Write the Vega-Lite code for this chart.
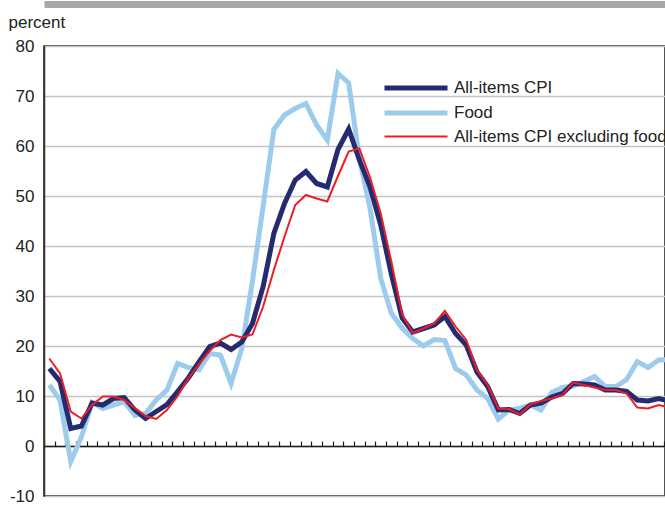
{
  "$schema": "https://vega.github.io/schema/vega-lite/v6.json",
  "width": 621,
  "height": 450,
  "autosize": {"type": "none"},
  "padding": {"left": 44, "top": 46, "right": 0, "bottom": 10},
  "background": "white",
  "config": {
    "font": "Liberation Sans",
    "view": {"stroke": "#1a1a1a", "strokeWidth": 1.5},
    "axis": {"labelFont": "Liberation Sans", "titleFont": "Liberation Sans"}
  },
  "data": {
    "values": [
      {"t": 0.5, "All-items CPI": 15.5, "Food": 12.2, "All-items CPI excluding food": 17.5},
      {"t": 1.5, "All-items CPI": 12.9, "Food": 9.2, "All-items CPI excluding food": 14.5},
      {"t": 2.5, "All-items CPI": 3.5, "Food": -3.1, "All-items CPI excluding food": 6.9},
      {"t": 3.5, "All-items CPI": 4.0, "Food": 1.8, "All-items CPI excluding food": 5.5},
      {"t": 4.5, "All-items CPI": 8.6, "Food": 8.7, "All-items CPI excluding food": 8.2},
      {"t": 5.5, "All-items CPI": 8.2, "Food": 7.5, "All-items CPI excluding food": 9.9},
      {"t": 6.5, "All-items CPI": 9.5, "Food": 8.2, "All-items CPI excluding food": 9.9},
      {"t": 7.5, "All-items CPI": 9.7, "Food": 8.9, "All-items CPI excluding food": 9.2},
      {"t": 8.5, "All-items CPI": 7.2, "Food": 6.1, "All-items CPI excluding food": 7.6},
      {"t": 9.5, "All-items CPI": 5.5, "Food": 6.5, "All-items CPI excluding food": 6.0},
      {"t": 10.5, "All-items CPI": 6.9, "Food": 9.2, "All-items CPI excluding food": 5.4},
      {"t": 11.5, "All-items CPI": 8.3, "Food": 11.2, "All-items CPI excluding food": 7.2},
      {"t": 12.5, "All-items CPI": 10.9, "Food": 16.5, "All-items CPI excluding food": 10.0},
      {"t": 13.5, "All-items CPI": 13.6, "Food": 15.7, "All-items CPI excluding food": 13.5},
      {"t": 14.5, "All-items CPI": 16.8, "Food": 15.2, "All-items CPI excluding food": 16.4},
      {"t": 15.5, "All-items CPI": 19.9, "Food": 18.5, "All-items CPI excluding food": 19.0},
      {"t": 16.5, "All-items CPI": 20.6, "Food": 18.2, "All-items CPI excluding food": 21.2},
      {"t": 17.5, "All-items CPI": 19.3, "Food": 12.5, "All-items CPI excluding food": 22.3},
      {"t": 18.5, "All-items CPI": 20.8, "Food": 19.5, "All-items CPI excluding food": 21.7},
      {"t": 19.5, "All-items CPI": 24.5, "Food": 33.0, "All-items CPI excluding food": 22.3},
      {"t": 20.5, "All-items CPI": 31.9, "Food": 48.0, "All-items CPI excluding food": 27.9},
      {"t": 21.5, "All-items CPI": 42.5, "Food": 63.3, "All-items CPI excluding food": 35.2},
      {"t": 22.5, "All-items CPI": 48.5, "Food": 66.2, "All-items CPI excluding food": 41.9},
      {"t": 23.5, "All-items CPI": 53.2, "Food": 67.5, "All-items CPI excluding food": 48.2},
      {"t": 24.5, "All-items CPI": 54.9, "Food": 68.5, "All-items CPI excluding food": 50.2},
      {"t": 25.5, "All-items CPI": 52.5, "Food": 64.2, "All-items CPI excluding food": 49.5},
      {"t": 26.5, "All-items CPI": 51.8, "Food": 61.2, "All-items CPI excluding food": 48.9},
      {"t": 27.5, "All-items CPI": 59.3, "Food": 74.5, "All-items CPI excluding food": 54.0},
      {"t": 28.5, "All-items CPI": 63.4, "Food": 72.6, "All-items CPI excluding food": 58.9},
      {"t": 29.5, "All-items CPI": 57.2, "Food": 57.5, "All-items CPI excluding food": 59.5},
      {"t": 30.5, "All-items CPI": 51.8, "Food": 47.5, "All-items CPI excluding food": 53.7},
      {"t": 31.5, "All-items CPI": 44.2, "Food": 33.5, "All-items CPI excluding food": 46.5},
      {"t": 32.5, "All-items CPI": 34.3, "Food": 26.5, "All-items CPI excluding food": 36.8},
      {"t": 33.5, "All-items CPI": 25.6, "Food": 23.6, "All-items CPI excluding food": 26.3},
      {"t": 34.5, "All-items CPI": 22.8, "Food": 21.5, "All-items CPI excluding food": 22.6},
      {"t": 35.5, "All-items CPI": 23.5, "Food": 20.0, "All-items CPI excluding food": 23.5},
      {"t": 36.5, "All-items CPI": 24.2, "Food": 21.3, "All-items CPI excluding food": 24.5},
      {"t": 37.5, "All-items CPI": 25.9, "Food": 21.1, "All-items CPI excluding food": 27.0},
      {"t": 38.5, "All-items CPI": 22.5, "Food": 15.5, "All-items CPI excluding food": 23.9},
      {"t": 39.5, "All-items CPI": 20.2, "Food": 14.2, "All-items CPI excluding food": 21.2},
      {"t": 40.5, "All-items CPI": 14.8, "Food": 11.2, "All-items CPI excluding food": 15.2},
      {"t": 41.5, "All-items CPI": 11.9, "Food": 9.5, "All-items CPI excluding food": 12.2},
      {"t": 42.5, "All-items CPI": 7.2, "Food": 5.4, "All-items CPI excluding food": 7.5},
      {"t": 43.5, "All-items CPI": 7.3, "Food": 7.2, "All-items CPI excluding food": 7.4},
      {"t": 44.5, "All-items CPI": 6.5, "Food": 7.5, "All-items CPI excluding food": 6.3},
      {"t": 45.5, "All-items CPI": 8.2, "Food": 8.2, "All-items CPI excluding food": 8.3},
      {"t": 46.5, "All-items CPI": 8.6, "Food": 7.2, "All-items CPI excluding food": 9.0},
      {"t": 47.5, "All-items CPI": 9.8, "Food": 10.7, "All-items CPI excluding food": 9.5},
      {"t": 48.5, "All-items CPI": 10.5, "Food": 11.7, "All-items CPI excluding food": 10.2},
      {"t": 49.5, "All-items CPI": 12.5, "Food": 12.0, "All-items CPI excluding food": 12.7},
      {"t": 50.5, "All-items CPI": 12.4, "Food": 12.9, "All-items CPI excluding food": 12.2},
      {"t": 51.5, "All-items CPI": 12.2, "Food": 13.9, "All-items CPI excluding food": 11.7},
      {"t": 52.5, "All-items CPI": 11.2, "Food": 11.9, "All-items CPI excluding food": 11.2},
      {"t": 53.5, "All-items CPI": 11.2, "Food": 11.9, "All-items CPI excluding food": 11.2},
      {"t": 54.5, "All-items CPI": 10.9, "Food": 13.3, "All-items CPI excluding food": 10.5},
      {"t": 55.5, "All-items CPI": 9.2, "Food": 16.9, "All-items CPI excluding food": 7.7},
      {"t": 56.5, "All-items CPI": 9.0, "Food": 15.7, "All-items CPI excluding food": 7.5},
      {"t": 57.5, "All-items CPI": 9.5, "Food": 17.2, "All-items CPI excluding food": 8.2},
      {"t": 58.5, "All-items CPI": 9.0, "Food": 17.3, "All-items CPI excluding food": 7.7}
    ]
  },
  "transform": [
    {"fold": ["All-items CPI", "Food", "All-items CPI excluding food"], "as": ["series", "value"]}
  ],
  "encoding": {
    "y": {
      "field": "value",
      "type": "quantitative",
      "scale": {"domain": [-10, 80], "nice": false, "zero": false},
      "axis": {
        "values": [-10, 0, 10, 20, 30, 40, 50, 60, 70, 80],
        "labelExpr": "replace(datum.label, '\u2212', '-')",
        "title": "percent",
        "titleAngle": 0,
        "titleAlign": "left",
        "titleBaseline": "alphabetic",
        "titleX": -36,
        "titleY": -19,
        "titleFontSize": 17,
        "titleFontWeight": "normal",
        "titleColor": "#222222",
        "labelFontSize": 17,
        "labelColor": "#222222",
        "labelPadding": 10,
        "ticks": false,
        "domainColor": "#333333",
        "domainWidth": 1.5,
        "grid": true,
        "gridColor": "#c4c4c4",
        "gridWidth": 1.5
      }
    },
    "color": {
      "field": "series",
      "type": "nominal",
      "scale": {
        "domain": ["All-items CPI", "Food", "All-items CPI excluding food"],
        "range": ["#262a6f", "#9ccbec", "#ee1d25"]
      },
      "legend": {
        "title": null,
        "orient": "none",
        "legendX": 359,
        "legendY": 29,
        "symbolType": "M-3,0H3",
        "symbolSize": 441,
        "symbolFillColor": "transparent",
        "labelFontSize": 17,
        "labelColor": "#222222",
        "labelOffset": 25,
        "labelLimit": 400,
        "rowPadding": 2,
        "padding": 0
      }
    },
    "strokeWidth": {
      "field": "series",
      "type": "nominal",
      "scale": {
        "type": "ordinal",
        "domain": ["All-items CPI", "Food", "All-items CPI excluding food"],
        "range": [5, 5, 2]
      },
      "legend": {
        "title": null,
        "orient": "none",
        "legendX": 359,
        "legendY": 29,
        "symbolType": "M-3,0H3",
        "symbolSize": 441,
        "symbolFillColor": "transparent",
        "labelFontSize": 17,
        "labelColor": "#222222",
        "labelOffset": 25,
        "labelLimit": 400,
        "rowPadding": 2,
        "padding": 0
      }
    }
  },
  "layer": [
    {
      "transform": [{"filter": "datum.series === 'Food'"}],
      "mark": {"type": "line", "clip": true, "strokeJoin": "miter"},
      "encoding": {
        "x": {
          "field": "t",
          "type": "quantitative",
          "scale": {"domain": [0, 58.09], "nice": false, "zero": false},
          "axis": {
            "orient": "top",
            "offset": 42,
            "labels": false,
            "ticks": false,
            "grid": false,
            "title": null,
            "domainColor": "#a8a8a8",
            "domainWidth": 7
          }
        }
      }
    },
    {
      "transform": [{"filter": "datum.series === 'All-items CPI'"}],
      "mark": {"type": "line", "clip": true, "strokeJoin": "miter"},
      "encoding": {
        "x": {
          "field": "t",
          "type": "quantitative",
          "axis": {
            "orient": "bottom",
            "offset": -50,
            "tickCount": 60,
            "labels": false,
            "ticks": true,
            "tickSize": -5,
            "tickColor": "#1a1a1a",
            "tickWidth": 1.2,
            "grid": false,
            "title": null,
            "domainColor": "#1a1a1a",
            "domainWidth": 1.5
          }
        }
      }
    },
    {
      "transform": [{"filter": "datum.series === 'All-items CPI excluding food'"}],
      "mark": {"type": "line", "clip": true, "strokeJoin": "miter"},
      "encoding": {
        "x": {"field": "t", "type": "quantitative", "axis": null}
      }
    }
  ],
  "resolve": {"axis": {"x": "independent"}}
}
